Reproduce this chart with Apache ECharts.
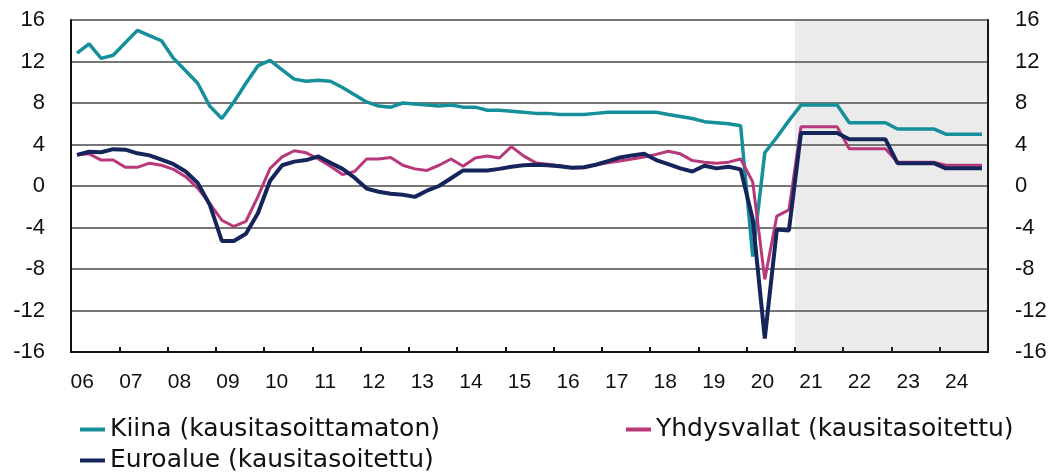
<!DOCTYPE html>
<html>
<head>
<meta charset="utf-8">
<script src="https://cdn.jsdelivr.net/npm/echarts@6/dist/echarts.min.js"></script>
<style>
  html, body { margin: 0; padding: 0; background: #fff; }
  #chart { width: 1052px; height: 472px; }
</style>
</head>
<body>
<div id="chart"></div>
<script>
// vuosineljännekset 2006Q1 - 2024Q4, vuosimuutos %
const startYear = 2006;
const yearLabels = ['06', '07', '08', '09', '10', '11', '12', '13', '14', '15',
  '16', '17', '18', '19', '20', '21', '22', '23', '24'];
const yTicks = [-16, -12, -8, -4, 0, 4, 8, 12, 16];
const forecastStart = 2021;

// Kiina (kausitasoittamaton)
const china = [
  12.8, 13.7, 12.3, 12.6, 13.8, 15.0, 14.5, 14.0,
  12.3, 11.1, 9.9, 7.7, 6.5, 8.1, 9.9, 11.6,
  12.1, 11.2, 10.3, 10.1, 10.2, 10.1, 9.5, 8.8,
  8.1, 7.7, 7.6, 8.0, 7.9, 7.8, 7.7, 7.8,
  7.6, 7.6, 7.3, 7.3, 7.2, 7.1, 7.0, 7.0,
  6.9, 6.9, 6.9, 7.0, 7.1, 7.1, 7.1, 7.1,
  7.1, 6.9, 6.7, 6.5, 6.2, 6.1, 6.0, 5.8,
  -6.8, 3.2, 4.7, 6.3, 7.8, 7.8, 7.8, 7.8,
  6.1, 6.1, 6.1, 6.1, 5.5, 5.5, 5.5, 5.5,
  5.0, 5.0, 5.0, 5.0
];

// Yhdysvallat (kausitasoitettu)
const usa = [
  3.0, 3.1, 2.5, 2.5, 1.8, 1.8, 2.2, 2.0,
  1.6, 0.9, -0.2, -1.7, -3.3, -3.9, -3.4, -1.0,
  1.7, 2.8, 3.4, 3.2, 2.6, 1.9, 1.1, 1.4,
  2.6, 2.6, 2.75, 2.0, 1.65, 1.5, 2.0, 2.6,
  1.9, 2.7, 2.9, 2.7, 3.8, 2.9, 2.25, 2.1,
  1.95, 1.75, 1.75, 2.05, 2.25, 2.4, 2.6, 2.8,
  3.05, 3.35, 3.1, 2.45, 2.3, 2.2, 2.3, 2.6,
  0.4, -9.0, -2.9, -2.3, 5.7, 5.7, 5.7, 5.7,
  3.6, 3.6, 3.6, 3.6, 2.3, 2.3, 2.3, 2.3,
  2.0, 2.0, 2.0, 2.0
];

// Euroalue (kausitasoitettu)
const euro = [
  3.0, 3.3, 3.25, 3.55, 3.5, 3.15, 2.95, 2.55,
  2.1, 1.4, 0.3, -1.8, -5.3, -5.3, -4.6, -2.6,
  0.5, 2.0, 2.35, 2.5, 2.85, 2.25, 1.65, 0.8,
  -0.25, -0.55, -0.75, -0.85, -1.05, -0.45, 0.0, 0.75,
  1.5, 1.5, 1.5, 1.65, 1.85, 2.0, 2.05, 2.0,
  1.9, 1.75, 1.8, 2.05, 2.4, 2.75, 2.95, 3.1,
  2.5, 2.1, 1.7, 1.4, 1.95, 1.7, 1.85, 1.6,
  -3.2, -14.7, -4.2, -4.3, 5.1, 5.1, 5.1, 5.1,
  4.5, 4.5, 4.5, 4.5, 2.2, 2.2, 2.2, 2.2,
  1.7, 1.7, 1.7, 1.7
];

const names = ['Kiina (kausitasoittamaton)', 'Yhdysvallat (kausitasoitettu)', 'Euroalue (kausitasoitettu)'];
const colors = ['#15909a', '#b8387a', '#16245c'];

// neljännesten keskikohdat aika-akselilla
function toPoints(values) {
  return values.map((v, i) => [startYear + (i + 0.5) / 4, v]);
}

const font = '"Liberation Sans", Arial, sans-serif';
const legendFont = '"DejaVu Sans", sans-serif';
const chart = echarts.init(document.getElementById('chart'), null, { renderer: 'canvas' });

const yAxisBase = {
  type: 'value',
  min: yTicks[0],
  max: yTicks[yTicks.length - 1],
  interval: 4,
  axisLine: { show: true, lineStyle: { color: '#111', width: 2 } },
  axisTick: { show: false },
  axisLabel: { color: '#111', fontSize: 22, fontFamily: font, margin: 26 }
};

// yksi selite per sarja, jotta sijainnit vastaavat kuvaa
function legendItem(name, left, top) {
  return {
    data: [name],
    left: left,
    top: top,
    padding: 0,
    icon: 'rect',
    itemWidth: 25,
    itemHeight: 4,
    textStyle: { color: '#111', fontSize: 25, fontFamily: legendFont }
  };
}

chart.setOption({
  animation: false,
  backgroundColor: '#fff',
  grid: [
    { left: 71, right: 64, top: 20, bottom: 120 },
    // vuosien nimiöt omassa kehyksessään (hieman vasemmalle kuten alkuperäisessä)
    { left: 58, right: 71, top: 20, bottom: 120 }
  ],
  legend: [
    legendItem(names[0], 80, 417),
    legendItem(names[1], 626, 417),
    legendItem(names[2], 80, 448)
  ],
  xAxis: [
    {
      type: 'value',
      gridIndex: 0,
      min: startYear,
      max: startYear + yearLabels.length,
      interval: 1,
      axisLine: { show: true, onZero: false, lineStyle: { color: '#111', width: 2 } },
      axisTick: { show: true, inside: true, length: 5, lineStyle: { color: '#111', width: 2 } },
      axisLabel: { show: false },
      splitLine: { show: false }
    },
    {
      type: 'category',
      gridIndex: 1,
      data: yearLabels,
      position: 'bottom',
      boundaryGap: true,
      axisLine: { show: false },
      axisTick: { show: false },
      axisLabel: { color: '#111', fontSize: 21, fontFamily: font, margin: 20, interval: 0 }
    }
  ],
  yAxis: [
    Object.assign({}, yAxisBase, {
      gridIndex: 0,
      position: 'left',
      splitLine: { show: true, lineStyle: { color: '#4a4a4a', width: 1.5 } }
    }),
    Object.assign({}, yAxisBase, {
      gridIndex: 0,
      position: 'right',
      splitLine: { show: false },
      axisLabel: { color: '#111', fontSize: 22, fontFamily: font, margin: 27, align: 'left' }
    }),
    {
      type: 'value',
      gridIndex: 1,
      show: false
    }
  ],
  series: [
    {
      name: names[0],
      type: 'line',
      data: toPoints(china),
      showSymbol: false,
      lineStyle: { color: colors[0], width: 3.5 },
      itemStyle: { color: colors[0] },
      markArea: {
        silent: true,
        itemStyle: { color: 'rgba(110,110,110,0.14)' },
        data: [[{ xAxis: forecastStart }, { xAxis: startYear + yearLabels.length }]]
      }
    },
    {
      name: names[1],
      type: 'line',
      data: toPoints(usa),
      showSymbol: false,
      lineStyle: { color: colors[1], width: 3 },
      itemStyle: { color: colors[1] }
    },
    {
      name: names[2],
      type: 'line',
      data: toPoints(euro),
      showSymbol: false,
      lineStyle: { color: colors[2], width: 4 },
      itemStyle: { color: colors[2] }
    }
  ]
});
</script>
</body>
</html>
